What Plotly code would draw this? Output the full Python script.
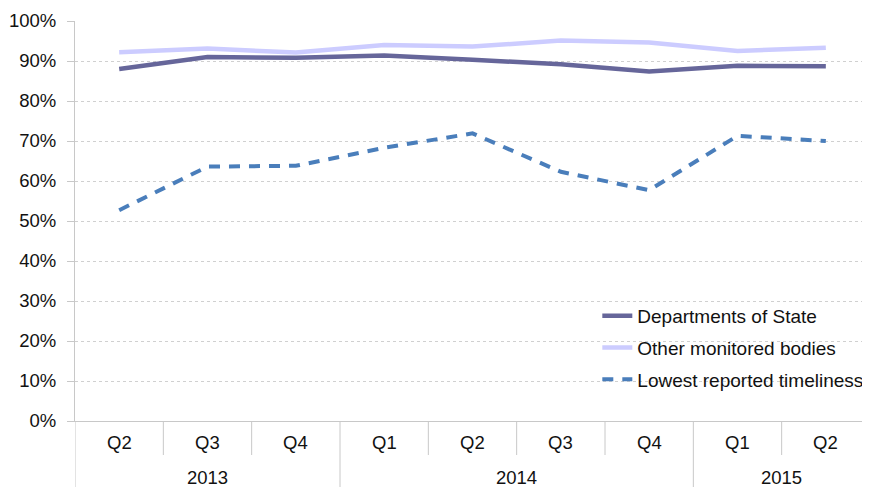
import plotly.graph_objects as go

years = ["2013", "2013", "2013", "2014", "2014", "2014", "2014", "2015", "2015"]
quarters = ["Q2", "Q3", "Q4", "Q1", "Q2", "Q3", "Q4", "Q1", "Q2"]

departments = [88.0, 91.0, 90.8, 91.4, 90.3, 89.2, 87.4, 88.8, 88.7]
other_bodies = [92.2, 93.1, 92.1, 94.0, 93.6, 95.1, 94.6, 92.5, 93.3]
lowest = [52.7, 63.6, 63.8, 68.3, 71.9, 62.3, 57.7, 71.3, 70.0]

font = "Liberation Sans, Arial, sans-serif"
txt = "#111111"
n = len(quarters)
xs = list(range(n))
grey = "#C8C8C8"

fig = go.Figure()
fig.add_trace(go.Scatter(x=xs, y=departments, mode="lines", name="Departments of State",
                         legendgroup="a", line=dict(color="#66669A", width=4.5)))
fig.add_trace(go.Scatter(x=xs, y=other_bodies, mode="lines", name="Other monitored bodies",
                         legendgroup="b", line=dict(color="#CCCCFF", width=4.5)))
fig.add_trace(go.Scatter(x=xs, y=lowest, mode="lines", name="Lowest reported timeliness",
                         legendgroup="c", line=dict(color="#4A7EBB", width=4, dash="11px,9px")))

# quarter labels and separators
for i, q in enumerate(quarters):
    fig.add_annotation(x=i, y=-0.053, xref="x", yref="paper", text=q, showarrow=False,
                       yanchor="middle", font=dict(size=18.5, family=font, color=txt))
for k in range(1, n):
    y1 = -0.2 if years[k] != years[k - 1] else -0.085
    fig.add_shape(type="line", x0=k - 0.5, x1=k - 0.5, xref="x", y0=0, y1=y1, yref="paper",
                  line=dict(color=grey, width=1))
fig.add_shape(type="line", x0=-0.5, x1=-0.5, xref="x", y0=0, y1=-0.2, yref="paper",
              line=dict(color=grey, width=1))

# year labels centered on groups
groups = []
for i, yv in enumerate(years):
    if groups and groups[-1][0] == yv:
        groups[-1][2] = i
    else:
        groups.append([yv, i, i])
for yv, a, b in groups:
    fig.add_annotation(x=(a + b) / 2, y=-0.142, xref="x", yref="paper", text=yv, showarrow=False,
                       yanchor="middle", font=dict(size=18.5, family=font, color=txt))

fig.update_layout(
    width=862, height=479,
    margin=dict(l=67, r=0, t=13, b=66),
    paper_bgcolor="white", plot_bgcolor="white",
    font=dict(family=font, size=18.5, color=txt),
    showlegend=True,
    legend=dict(x=0.657, xanchor="left", y=0.31, yanchor="top",
                bgcolor="rgba(0,0,0,0)", font=dict(size=19, family=font, color=txt),
                tracegroupgap=4),
)
fig.update_yaxes(range=[0, 100], dtick=10, ticksuffix="%", showgrid=True,
                 gridcolor="#D0D0D0", griddash="dot", gridwidth=1,
                 showline=True, linecolor=grey, linewidth=1,
                 ticks="outside", ticklen=7, tickcolor=grey, ticklabelstandoff=7,
                 zeroline=False, automargin=False)
fig.update_xaxes(range=[-0.5, n - 0.5], showline=True, linecolor=grey, linewidth=1,
                 showticklabels=False, ticks="", showgrid=False, zeroline=False,
                 automargin=False)

fig.write_html("out.html")
